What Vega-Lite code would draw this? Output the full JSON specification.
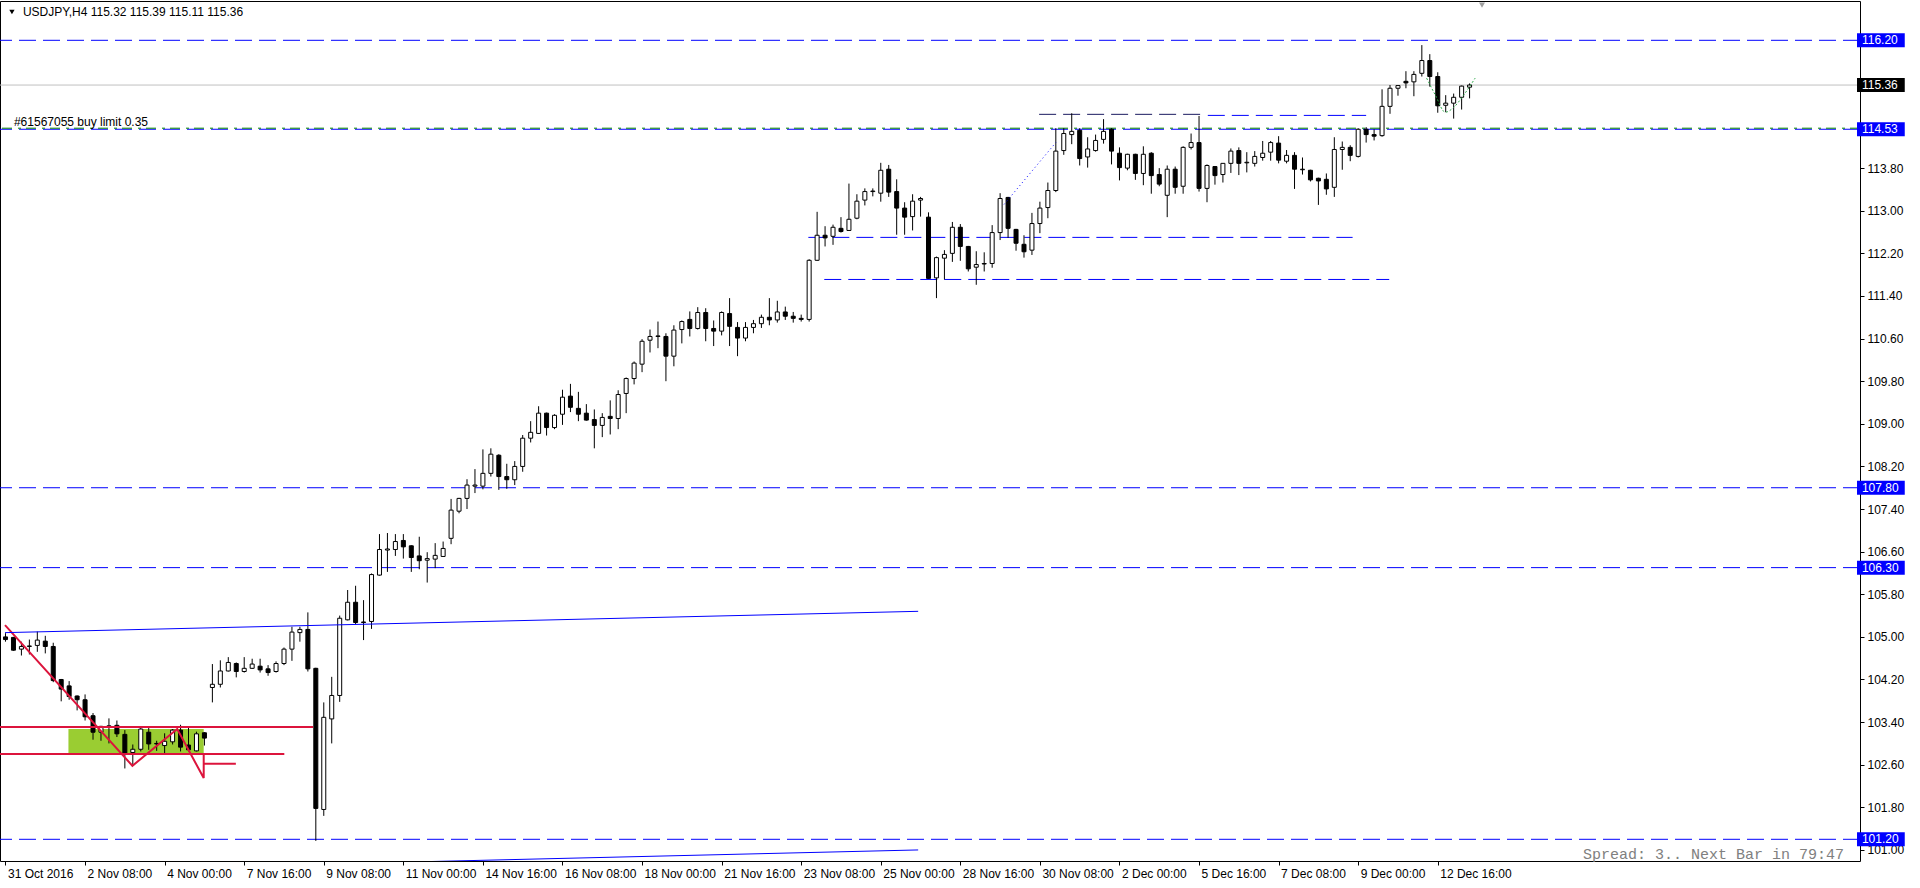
{
"$schema":"https://vega.github.io/schema/vega-lite/v6.json",
"width":1860,"height":860,
"autosize":{"type":"none"},
"padding":{"left":0,"top":1,"right":60,"bottom":27},
"background":"white",
"config":{"view":{"stroke":"black","strokeWidth":1},"font":"Liberation Sans","axis":{"grid":false}},
"datasets":{
"candles":[
{"k":0,"o":105.00,"h":105.07,"l":104.91,"c":104.95},
{"k":1,"o":104.99,"h":105.00,"l":104.74,"c":104.75},
{"k":2,"o":104.77,"h":104.91,"l":104.65,"c":104.82},
{"k":3,"o":104.82,"h":104.95,"l":104.67,"c":104.83},
{"k":4,"o":104.84,"h":105.10,"l":104.72,"c":104.94},
{"k":5,"o":104.92,"h":105.02,"l":104.69,"c":104.82},
{"k":6,"o":104.82,"h":104.89,"l":104.15,"c":104.18},
{"k":7,"o":104.20,"h":104.21,"l":103.79,"c":104.02},
{"k":8,"o":104.08,"h":104.17,"l":103.82,"c":103.88},
{"k":9,"o":103.89,"h":103.90,"l":103.62,"c":103.82},
{"k":10,"o":103.82,"h":103.92,"l":103.43,"c":103.50},
{"k":11,"o":103.52,"h":103.57,"l":103.07,"c":103.21},
{"k":12,"o":103.21,"h":103.33,"l":103.05,"c":103.32},
{"k":13,"o":103.32,"h":103.47,"l":103.00,"c":103.33},
{"k":14,"o":103.34,"h":103.43,"l":103.12,"c":103.18},
{"k":15,"o":103.17,"h":103.25,"l":102.53,"c":102.81},
{"k":16,"o":102.83,"h":102.98,"l":102.58,"c":102.89},
{"k":17,"o":102.89,"h":103.30,"l":102.85,"c":103.27},
{"k":18,"o":103.21,"h":103.31,"l":102.88,"c":102.99},
{"k":19,"o":103.00,"h":103.05,"l":102.86,"c":102.99},
{"k":20,"o":102.96,"h":103.19,"l":102.81,"c":103.04},
{"k":21,"o":103.03,"h":103.27,"l":102.98,"c":103.25},
{"k":22,"o":103.25,"h":103.35,"l":102.85,"c":102.93},
{"k":23,"o":102.97,"h":103.30,"l":102.85,"c":102.88},
{"k":24,"o":102.86,"h":103.22,"l":102.85,"c":103.18},
{"k":25,"o":103.20,"h":103.21,"l":102.96,"c":103.10},
{"k":26,"o":104.05,"h":104.49,"l":103.77,"c":104.11},
{"k":27,"o":104.11,"h":104.56,"l":104.05,"c":104.36},
{"k":28,"o":104.36,"h":104.62,"l":104.35,"c":104.52},
{"k":29,"o":104.50,"h":104.52,"l":104.24,"c":104.35},
{"k":30,"o":104.35,"h":104.62,"l":104.33,"c":104.41},
{"k":31,"o":104.41,"h":104.59,"l":104.40,"c":104.49},
{"k":32,"o":104.45,"h":104.59,"l":104.33,"c":104.38},
{"k":33,"o":104.40,"h":104.47,"l":104.27,"c":104.33},
{"k":34,"o":104.35,"h":104.54,"l":104.33,"c":104.50},
{"k":35,"o":104.50,"h":104.80,"l":104.47,"c":104.77},
{"k":36,"o":104.77,"h":105.19,"l":104.55,"c":105.09},
{"k":37,"o":105.08,"h":105.19,"l":104.91,"c":105.14},
{"k":38,"o":105.14,"h":105.46,"l":104.35,"c":104.40},
{"k":39,"o":104.41,"h":104.42,"l":101.17,"c":101.78},
{"k":40,"o":101.76,"h":103.77,"l":101.64,"c":103.49},
{"k":41,"o":103.46,"h":104.25,"l":103.00,"c":103.90},
{"k":42,"o":103.90,"h":105.40,"l":103.78,"c":105.35},
{"k":43,"o":105.32,"h":105.88,"l":105.31,"c":105.65},
{"k":44,"o":105.65,"h":105.96,"l":105.24,"c":105.27},
{"k":45,"o":105.28,"h":105.69,"l":104.94,"c":105.27},
{"k":46,"o":105.29,"h":106.19,"l":105.15,"c":106.17},
{"k":47,"o":106.16,"h":106.93,"l":106.15,"c":106.64},
{"k":48,"o":106.63,"h":106.95,"l":106.22,"c":106.65},
{"k":49,"o":106.64,"h":106.93,"l":106.52,"c":106.79},
{"k":50,"o":106.81,"h":106.93,"l":106.47,"c":106.69},
{"k":51,"o":106.71,"h":106.72,"l":106.22,"c":106.49},
{"k":52,"o":106.52,"h":106.88,"l":106.27,"c":106.43},
{"k":53,"o":106.44,"h":106.59,"l":106.02,"c":106.47},
{"k":54,"o":106.46,"h":106.76,"l":106.29,"c":106.53},
{"k":55,"o":106.51,"h":106.79,"l":106.50,"c":106.66},
{"k":56,"o":106.85,"h":107.59,"l":106.74,"c":107.38},
{"k":57,"o":107.36,"h":107.61,"l":107.32,"c":107.60},
{"k":58,"o":107.60,"h":107.96,"l":107.40,"c":107.85},
{"k":59,"o":107.83,"h":108.15,"l":107.70,"c":107.85},
{"k":60,"o":107.83,"h":108.52,"l":107.77,"c":108.07},
{"k":61,"o":108.07,"h":108.54,"l":108.01,"c":108.43},
{"k":62,"o":108.41,"h":108.43,"l":107.76,"c":108.01},
{"k":63,"o":108.01,"h":108.25,"l":107.78,"c":107.95},
{"k":64,"o":107.95,"h":108.30,"l":107.85,"c":108.20},
{"k":65,"o":108.20,"h":108.79,"l":108.10,"c":108.73},
{"k":66,"o":108.73,"h":109.05,"l":108.65,"c":108.84},
{"k":67,"o":108.82,"h":109.33,"l":108.81,"c":109.20},
{"k":68,"o":109.20,"h":109.21,"l":108.78,"c":108.93},
{"k":69,"o":108.93,"h":109.18,"l":108.90,"c":109.16},
{"k":70,"o":109.18,"h":109.64,"l":108.98,"c":109.50},
{"k":71,"o":109.52,"h":109.75,"l":109.22,"c":109.31},
{"k":72,"o":109.29,"h":109.60,"l":109.05,"c":109.18},
{"k":73,"o":109.20,"h":109.37,"l":109.06,"c":109.07},
{"k":74,"o":109.08,"h":109.27,"l":108.54,"c":108.97},
{"k":75,"o":108.97,"h":109.20,"l":108.75,"c":109.12},
{"k":76,"o":109.14,"h":109.44,"l":108.80,"c":109.10},
{"k":77,"o":109.10,"h":109.63,"l":108.90,"c":109.55},
{"k":78,"o":109.57,"h":109.87,"l":109.20,"c":109.85},
{"k":79,"o":109.85,"h":110.17,"l":109.74,"c":110.14},
{"k":80,"o":110.12,"h":110.59,"l":109.97,"c":110.55},
{"k":81,"o":110.57,"h":110.77,"l":110.34,"c":110.64},
{"k":82,"o":110.64,"h":110.92,"l":110.42,"c":110.65},
{"k":83,"o":110.64,"h":110.70,"l":109.80,"c":110.27},
{"k":84,"o":110.27,"h":110.85,"l":110.08,"c":110.76},
{"k":85,"o":110.77,"h":110.94,"l":110.51,"c":110.92},
{"k":86,"o":110.96,"h":111.11,"l":110.64,"c":110.79},
{"k":87,"o":110.79,"h":111.19,"l":110.77,"c":111.09},
{"k":88,"o":111.09,"h":111.17,"l":110.55,"c":110.79},
{"k":89,"o":110.79,"h":110.94,"l":110.46,"c":110.74},
{"k":90,"o":110.74,"h":111.11,"l":110.66,"c":111.09},
{"k":91,"o":111.07,"h":111.36,"l":110.46,"c":110.83},
{"k":92,"o":110.81,"h":110.91,"l":110.27,"c":110.61},
{"k":93,"o":110.61,"h":110.91,"l":110.55,"c":110.81},
{"k":94,"o":110.81,"h":110.95,"l":110.70,"c":110.88},
{"k":95,"o":110.88,"h":111.05,"l":110.80,"c":111.00},
{"k":96,"o":111.00,"h":111.36,"l":110.85,"c":110.95},
{"k":97,"o":110.95,"h":111.31,"l":110.90,"c":111.10},
{"k":98,"o":111.10,"h":111.20,"l":110.95,"c":111.02},
{"k":99,"o":111.02,"h":111.10,"l":110.90,"c":110.98},
{"k":100,"o":110.98,"h":111.05,"l":110.92,"c":110.96},
{"k":101,"o":110.96,"h":112.09,"l":110.92,"c":112.07},
{"k":102,"o":112.07,"h":112.98,"l":112.06,"c":112.54},
{"k":103,"o":112.54,"h":112.71,"l":112.33,"c":112.49},
{"k":104,"o":112.52,"h":112.74,"l":112.36,"c":112.69},
{"k":105,"o":112.67,"h":112.88,"l":112.59,"c":112.61},
{"k":106,"o":112.63,"h":113.51,"l":112.62,"c":112.84},
{"k":107,"o":112.86,"h":113.31,"l":112.84,"c":113.18},
{"k":108,"o":113.20,"h":113.42,"l":113.10,"c":113.36},
{"k":109,"o":113.36,"h":113.42,"l":113.27,"c":113.37},
{"k":110,"o":113.33,"h":113.90,"l":113.17,"c":113.76},
{"k":111,"o":113.78,"h":113.86,"l":113.26,"c":113.35},
{"k":112,"o":113.36,"h":113.59,"l":112.55,"c":113.05},
{"k":113,"o":113.05,"h":113.16,"l":112.55,"c":112.88},
{"k":114,"o":112.89,"h":113.31,"l":112.63,"c":113.18},
{"k":115,"o":113.20,"h":113.26,"l":112.89,"c":113.23},
{"k":116,"o":112.88,"h":112.97,"l":111.72,"c":111.73},
{"k":117,"o":111.74,"h":112.14,"l":111.36,"c":112.12},
{"k":118,"o":112.11,"h":112.26,"l":111.71,"c":112.18},
{"k":119,"o":112.20,"h":112.79,"l":112.04,"c":112.69},
{"k":120,"o":112.69,"h":112.75,"l":112.06,"c":112.33},
{"k":121,"o":112.33,"h":112.34,"l":111.86,"c":111.91},
{"k":122,"o":111.94,"h":112.24,"l":111.61,"c":111.99},
{"k":123,"o":112.00,"h":112.22,"l":111.86,"c":112.01},
{"k":124,"o":112.01,"h":112.73,"l":111.93,"c":112.59},
{"k":125,"o":112.59,"h":113.33,"l":112.45,"c":113.23},
{"k":126,"o":113.25,"h":113.26,"l":112.49,"c":112.67},
{"k":127,"o":112.65,"h":112.66,"l":112.25,"c":112.39},
{"k":128,"o":112.37,"h":112.54,"l":112.12,"c":112.23},
{"k":129,"o":112.26,"h":112.96,"l":112.17,"c":112.76},
{"k":130,"o":112.76,"h":113.17,"l":112.58,"c":113.05},
{"k":131,"o":113.06,"h":113.53,"l":112.86,"c":113.38},
{"k":132,"o":113.38,"h":114.55,"l":113.35,"c":114.12},
{"k":133,"o":114.13,"h":114.55,"l":114.05,"c":114.45},
{"k":134,"o":114.43,"h":114.83,"l":114.25,"c":114.49},
{"k":135,"o":114.51,"h":114.55,"l":113.85,"c":113.98},
{"k":136,"o":114.01,"h":114.38,"l":113.81,"c":114.16},
{"k":137,"o":114.13,"h":114.43,"l":114.11,"c":114.32},
{"k":138,"o":114.34,"h":114.72,"l":114.26,"c":114.49},
{"k":139,"o":114.53,"h":114.55,"l":113.87,"c":114.12},
{"k":140,"o":114.08,"h":114.19,"l":113.57,"c":113.81},
{"k":141,"o":113.80,"h":114.07,"l":113.76,"c":114.06},
{"k":142,"o":114.06,"h":114.07,"l":113.58,"c":113.70},
{"k":143,"o":113.70,"h":114.21,"l":113.48,"c":114.06},
{"k":144,"o":114.08,"h":114.10,"l":113.32,"c":113.66},
{"k":145,"o":113.68,"h":113.80,"l":113.46,"c":113.50},
{"k":146,"o":113.29,"h":113.85,"l":112.88,"c":113.78},
{"k":147,"o":113.78,"h":113.83,"l":113.32,"c":113.44},
{"k":148,"o":113.46,"h":114.21,"l":113.32,"c":114.19},
{"k":149,"o":114.19,"h":114.45,"l":114.15,"c":114.28},
{"k":150,"o":114.28,"h":114.78,"l":113.36,"c":113.42},
{"k":151,"o":113.42,"h":113.87,"l":113.16,"c":113.85},
{"k":152,"o":113.83,"h":113.84,"l":113.49,"c":113.66},
{"k":153,"o":113.68,"h":113.89,"l":113.53,"c":113.89},
{"k":154,"o":113.89,"h":114.17,"l":113.71,"c":114.12},
{"k":155,"o":114.13,"h":114.19,"l":113.67,"c":113.89},
{"k":156,"o":113.90,"h":114.10,"l":113.72,"c":113.91},
{"k":157,"o":113.89,"h":114.12,"l":113.83,"c":114.02},
{"k":158,"o":114.00,"h":114.31,"l":113.94,"c":114.08},
{"k":159,"o":114.10,"h":114.31,"l":113.94,"c":114.28},
{"k":160,"o":114.27,"h":114.40,"l":113.89,"c":113.95},
{"k":161,"o":113.93,"h":114.14,"l":113.89,"c":114.04},
{"k":162,"o":114.04,"h":114.10,"l":113.41,"c":113.78},
{"k":163,"o":113.77,"h":114.00,"l":113.68,"c":113.78},
{"k":164,"o":113.76,"h":113.77,"l":113.55,"c":113.58},
{"k":165,"o":113.61,"h":113.62,"l":113.11,"c":113.56},
{"k":166,"o":113.59,"h":113.70,"l":113.30,"c":113.41},
{"k":167,"o":113.44,"h":114.38,"l":113.26,"c":114.15},
{"k":168,"o":114.15,"h":114.30,"l":113.77,"c":114.19},
{"k":169,"o":114.19,"h":114.23,"l":113.93,"c":114.04},
{"k":170,"o":114.02,"h":114.55,"l":114.00,"c":114.53},
{"k":171,"o":114.53,"h":114.57,"l":114.28,"c":114.43},
{"k":172,"o":114.43,"h":114.53,"l":114.32,"c":114.40},
{"k":173,"o":114.41,"h":115.28,"l":114.39,"c":114.96},
{"k":174,"o":114.96,"h":115.36,"l":114.82,"c":115.30},
{"k":175,"o":115.30,"h":115.35,"l":115.16,"c":115.35},
{"k":176,"o":115.43,"h":115.62,"l":115.30,"c":115.40},
{"k":177,"o":115.42,"h":115.62,"l":115.15,"c":115.56},
{"k":178,"o":115.58,"h":116.11,"l":115.52,"c":115.82},
{"k":179,"o":115.82,"h":115.94,"l":115.33,"c":115.52},
{"k":180,"o":115.52,"h":115.60,"l":114.84,"c":114.97},
{"k":181,"o":114.98,"h":115.17,"l":114.85,"c":115.02},
{"k":182,"o":115.02,"h":115.20,"l":114.73,"c":115.13},
{"k":183,"o":115.13,"h":115.35,"l":114.90,"c":115.34},
{"k":184,"o":115.32,"h":115.39,"l":115.11,"c":115.36}
],
"hblue":[{"p":116.2},{"p":107.8},{"p":106.3},{"p":101.2},{"p":114.53}],
"hgray":[{"p":115.36}],
"hgreen":[{"p":114.55}],
"segs":[
{"id":"b","k1":100.9,"k2":169.3,"p":112.5},
{"id":"b","k1":102.9,"k2":173.9,"p":111.71},
{"id":"d","k1":129.9,"k2":150.3,"p":114.81},
{"id":"b","k1":151.1,"k2":171.0,"p":114.79}
],
"redh":[
{"k1":-1,"k2":38.66,"p":103.31},
{"k1":-1,"k2":35.04,"p":102.8},
{"k1":24.91,"k2":28.95,"p":102.62}
],
"paths":[
{"id":"zig","i":0,"k":-0.06,"p":105.22},
{"id":"zig","i":1,"k":15.95,"p":102.58},
{"id":"zig","i":2,"k":21.58,"p":103.27},
{"id":"zig","i":3,"k":24.91,"p":102.35},
{"id":"zig","i":4,"k":24.91,"p":102.8},
{"id":"t1","i":0,"k":-0.06,"p":105.08},
{"id":"t1","i":1,"k":114.7,"p":105.48},
{"id":"t2","i":0,"k":40,"p":100.735},
{"id":"t2","i":1,"k":114.7,"p":101.0},
{"id":"dot","i":0,"k":125.5,"p":113.12},
{"id":"dot","i":1,"k":132.0,"p":114.28},
{"id":"g","i":0,"k":178.6,"p":115.49},
{"id":"g","i":1,"k":179.7,"p":115.17},
{"id":"g","i":2,"k":180.95,"p":114.85},
{"id":"g","i":3,"k":182.0,"p":114.94},
{"id":"g","i":4,"k":183.25,"p":115.17},
{"id":"g","i":5,"k":184.7,"p":115.49}
],
"boxes":[
{"p":116.2,"lbl":"116.20","kind":"b"},
{"p":115.36,"lbl":"115.36","kind":"k"},
{"p":114.53,"lbl":"114.53","kind":"b"},
{"p":107.8,"lbl":"107.80","kind":"b"},
{"p":106.3,"lbl":"106.30","kind":"b"},
{"p":101.2,"lbl":"101.20","kind":"b"}
]
},
"layer":[
{"data":{"values":[{"k1":7.91,"k2":24.91,"p1":103.27,"p2":102.82}]},
 "mark":{"type":"rect","color":"#9ACD32"},
 "encoding":{
  "x":{"field":"k1","type":"quantitative","scale":{"domain":[-0.0625,232.4375],"nice":false,"zero":false},
   "axis":{"title":null,"values":[0,10,20,30,40,50,60,70,80,90,100,110,120,130,140,150,160,170,180],
    "labelExpr":"['31 Oct 2016','2 Nov 08:00','4 Nov 00:00','7 Nov 16:00','9 Nov 08:00','11 Nov 00:00','14 Nov 16:00','16 Nov 08:00','18 Nov 00:00','21 Nov 16:00','23 Nov 08:00','25 Nov 00:00','28 Nov 16:00','30 Nov 08:00','2 Dec 00:00','5 Dec 16:00','7 Dec 08:00','9 Dec 00:00','12 Dec 16:00'][round(datum.value/10)]",
    "labelAlign":"left","labelBaseline":"top","labelPadding":3,"labelOffset":2,"tickSize":4,"tickColor":"black","domain":false,
    "labelFont":"Liberation Sans","labelFontSize":12,"labelColor":"black","labelOverlap":false,"labelBound":false,"labelFlush":false}},
  "x2":{"field":"k2"},
  "y":{"field":"p1","type":"quantitative","scale":{"domain":[100.7926,116.9378],"nice":false,"zero":false},
   "axis":{"title":null,"orient":"right","values":[101,101.8,102.6,103.4,104.2,105,105.8,106.6,107.4,108.2,109,109.8,110.6,111.4,112.2,113,113.8],
    "format":".2f","labelAlign":"left","labelBaseline":"middle","labelPadding":3,"tickSize":4,"tickColor":"black","domain":false,
    "labelFont":"Liberation Sans","labelFontSize":12,"labelColor":"black","labelOverlap":false,"labelBound":false,"labelFlush":false}},
  "y2":{"field":"p2"}}},
{"data":{"name":"hblue"},
 "mark":{"type":"rule","color":"#0000FF","strokeWidth":1,"strokeDash":[17,7]},
 "encoding":{"y":{"field":"p","type":"quantitative","scale":{"domain":[100.7926,116.9378],"nice":false,"zero":false}}}},
{"data":{"name":"hgreen"},
 "mark":{"type":"rule","color":"#008000","strokeWidth":1,"strokeDash":[10,5,3,6]},
 "encoding":{"y":{"field":"p","type":"quantitative","scale":{"domain":[100.7926,116.9378],"nice":false,"zero":false}}}},
{"data":{"name":"hgray"},
 "mark":{"type":"rule","color":"#C0C0C0","strokeWidth":1},
 "encoding":{"y":{"field":"p","type":"quantitative","scale":{"domain":[100.7926,116.9378],"nice":false,"zero":false}}}},
{"data":{"name":"segs"},
 "mark":{"type":"rule","strokeWidth":1,"strokeDash":[17,7]},
 "encoding":{
  "x":{"field":"k1","type":"quantitative","scale":{"domain":[-0.0625,232.4375],"nice":false,"zero":false}},
  "x2":{"field":"k2"},
  "y":{"field":"p","type":"quantitative","scale":{"domain":[100.7926,116.9378],"nice":false,"zero":false}},
  "color":{"condition":{"test":"datum.id==='d'","value":"#1a1a60"},"value":"#0000FF"}}},
{"data":{"name":"candles"},
 "mark":{"type":"rule","color":"black","strokeWidth":1},
 "encoding":{
  "x":{"field":"k","type":"quantitative","scale":{"domain":[-0.0625,232.4375],"nice":false,"zero":false}},
  "y":{"field":"l","type":"quantitative","scale":{"domain":[100.7926,116.9378],"nice":false,"zero":false}},
  "y2":{"field":"h"}}},
{"data":{"name":"candles"},
 "mark":{"type":"bar","width":4,"stroke":"black","strokeWidth":1},
 "encoding":{
  "x":{"field":"k","type":"quantitative","scale":{"domain":[-0.0625,232.4375],"nice":false,"zero":false}},
  "y":{"field":"o","type":"quantitative","scale":{"domain":[100.7926,116.9378],"nice":false,"zero":false}},
  "y2":{"field":"c"},
  "fill":{"condition":{"test":"datum.c < datum.o","value":"black"},"value":"white"}}},
{"data":{"name":"redh"},
 "mark":{"type":"rule","color":"#DC143C","strokeWidth":2,"clip":true},
 "encoding":{
  "x":{"field":"k1","type":"quantitative","scale":{"domain":[-0.0625,232.4375],"nice":false,"zero":false}},
  "x2":{"field":"k2"},
  "y":{"field":"p","type":"quantitative","scale":{"domain":[100.7926,116.9378],"nice":false,"zero":false}}}},
{"data":{"name":"paths"},
 "transform":[{"filter":"datum.id==='zig'"}],
 "mark":{"type":"line","color":"#DC143C","strokeWidth":2,"clip":true},
 "encoding":{
  "x":{"field":"k","type":"quantitative","scale":{"domain":[-0.0625,232.4375],"nice":false,"zero":false}},
  "y":{"field":"p","type":"quantitative","scale":{"domain":[100.7926,116.9378],"nice":false,"zero":false}},
  "order":{"field":"i"}}},
{"data":{"name":"paths"},
 "transform":[{"filter":"datum.id==='t1' || datum.id==='t2'"}],
 "mark":{"type":"line","color":"#0000FF","strokeWidth":1,"clip":true},
 "encoding":{
  "x":{"field":"k","type":"quantitative","scale":{"domain":[-0.0625,232.4375],"nice":false,"zero":false}},
  "y":{"field":"p","type":"quantitative","scale":{"domain":[100.7926,116.9378],"nice":false,"zero":false}},
  "detail":{"field":"id"},
  "order":{"field":"i"}}},
{"data":{"name":"paths"},
 "transform":[{"filter":"datum.id==='dot'"}],
 "mark":{"type":"line","color":"#0000FF","strokeWidth":1,"strokeDash":[1,3],"clip":true},
 "encoding":{
  "x":{"field":"k","type":"quantitative","scale":{"domain":[-0.0625,232.4375],"nice":false,"zero":false}},
  "y":{"field":"p","type":"quantitative","scale":{"domain":[100.7926,116.9378],"nice":false,"zero":false}},
  "order":{"field":"i"}}},
{"data":{"name":"paths"},
 "transform":[{"filter":"datum.id==='g'"}],
 "mark":{"type":"line","color":"#2EAA4A","strokeWidth":1,"strokeDash":[2,2],"interpolate":"monotone","clip":true},
 "encoding":{
  "x":{"field":"k","type":"quantitative","scale":{"domain":[-0.0625,232.4375],"nice":false,"zero":false}},
  "y":{"field":"p","type":"quantitative","scale":{"domain":[100.7926,116.9378],"nice":false,"zero":false}},
  "order":{"field":"i"}}},
{"data":{"values":[{"t":"USDJPY,H4  115.32 115.39 115.11 115.36"}]},
 "mark":{"type":"text","align":"left","baseline":"middle","fontSize":12,"font":"Liberation Sans","color":"black"},
 "encoding":{
  "x":{"datum":2.19,"type":"quantitative","scale":{"domain":[-0.0625,232.4375],"nice":false,"zero":false}},
  "y":{"datum":116.731,"type":"quantitative","scale":{"domain":[100.7926,116.9378],"nice":false,"zero":false}},
  "text":{"field":"t"}}},
{"data":{"values":[{"t":"#61567055 buy limit 0.35"}]},
 "mark":{"type":"text","align":"left","baseline":"middle","fontSize":12,"font":"Liberation Sans","color":"black"},
 "encoding":{
  "x":{"datum":1.06,"type":"quantitative","scale":{"domain":[-0.0625,232.4375],"nice":false,"zero":false}},
  "y":{"datum":114.666,"type":"quantitative","scale":{"domain":[100.7926,116.9378],"nice":false,"zero":false}},
  "text":{"field":"t"}}},
{"data":{"values":[{"t":"Spread: 3.. Next Bar in 79:47"}]},
 "mark":{"type":"text","align":"right","baseline":"middle","fontSize":15,"font":"Liberation Mono","color":"#808080"},
 "encoding":{
  "x":{"datum":231.06,"type":"quantitative","scale":{"domain":[-0.0625,232.4375],"nice":false,"zero":false}},
  "y":{"datum":100.924,"type":"quantitative","scale":{"domain":[100.7926,116.9378],"nice":false,"zero":false}},
  "text":{"field":"t"}}},
{"data":{"values":[{"s":"hdr"}]},
 "mark":{"type":"point","shape":"triangle-down","filled":true,"color":"black","size":28,"opacity":1},
 "encoding":{
  "x":{"datum":0.81,"type":"quantitative","scale":{"domain":[-0.0625,232.4375],"nice":false,"zero":false}},
  "y":{"datum":116.731,"type":"quantitative","scale":{"domain":[100.7926,116.9378],"nice":false,"zero":false}}}},
{"data":{"values":[{"s":"shift"}]},
 "mark":{"type":"point","shape":"triangle-down","filled":true,"color":"#A0A0A0","size":36,"opacity":1},
 "encoding":{
  "x":{"datum":185.56,"type":"quantitative","scale":{"domain":[-0.0625,232.4375],"nice":false,"zero":false}},
  "y":{"datum":116.862,"type":"quantitative","scale":{"domain":[100.7926,116.9378],"nice":false,"zero":false}}}},
{"data":{"name":"boxes"},
 "mark":{"type":"rule","strokeWidth":14,"strokeCap":"butt"},
 "encoding":{
  "x":{"datum":232.69,"type":"quantitative","scale":{"domain":[-0.0625,232.4375],"nice":false,"zero":false}},
  "x2":{"datum":238.69},
  "y":{"field":"p","type":"quantitative","scale":{"domain":[100.7926,116.9378],"nice":false,"zero":false}},
  "color":{"condition":{"test":"datum.kind==='k'","value":"black"},"value":"#0000FF"}}},
{"data":{"name":"boxes"},
 "mark":{"type":"text","align":"left","baseline":"middle","fontSize":12,"font":"Liberation Sans","color":"white"},
 "encoding":{
  "x":{"datum":233.31,"type":"quantitative","scale":{"domain":[-0.0625,232.4375],"nice":false,"zero":false}},
  "y":{"field":"p","type":"quantitative","scale":{"domain":[100.7926,116.9378],"nice":false,"zero":false}},
  "text":{"field":"lbl"}}}
]
}
